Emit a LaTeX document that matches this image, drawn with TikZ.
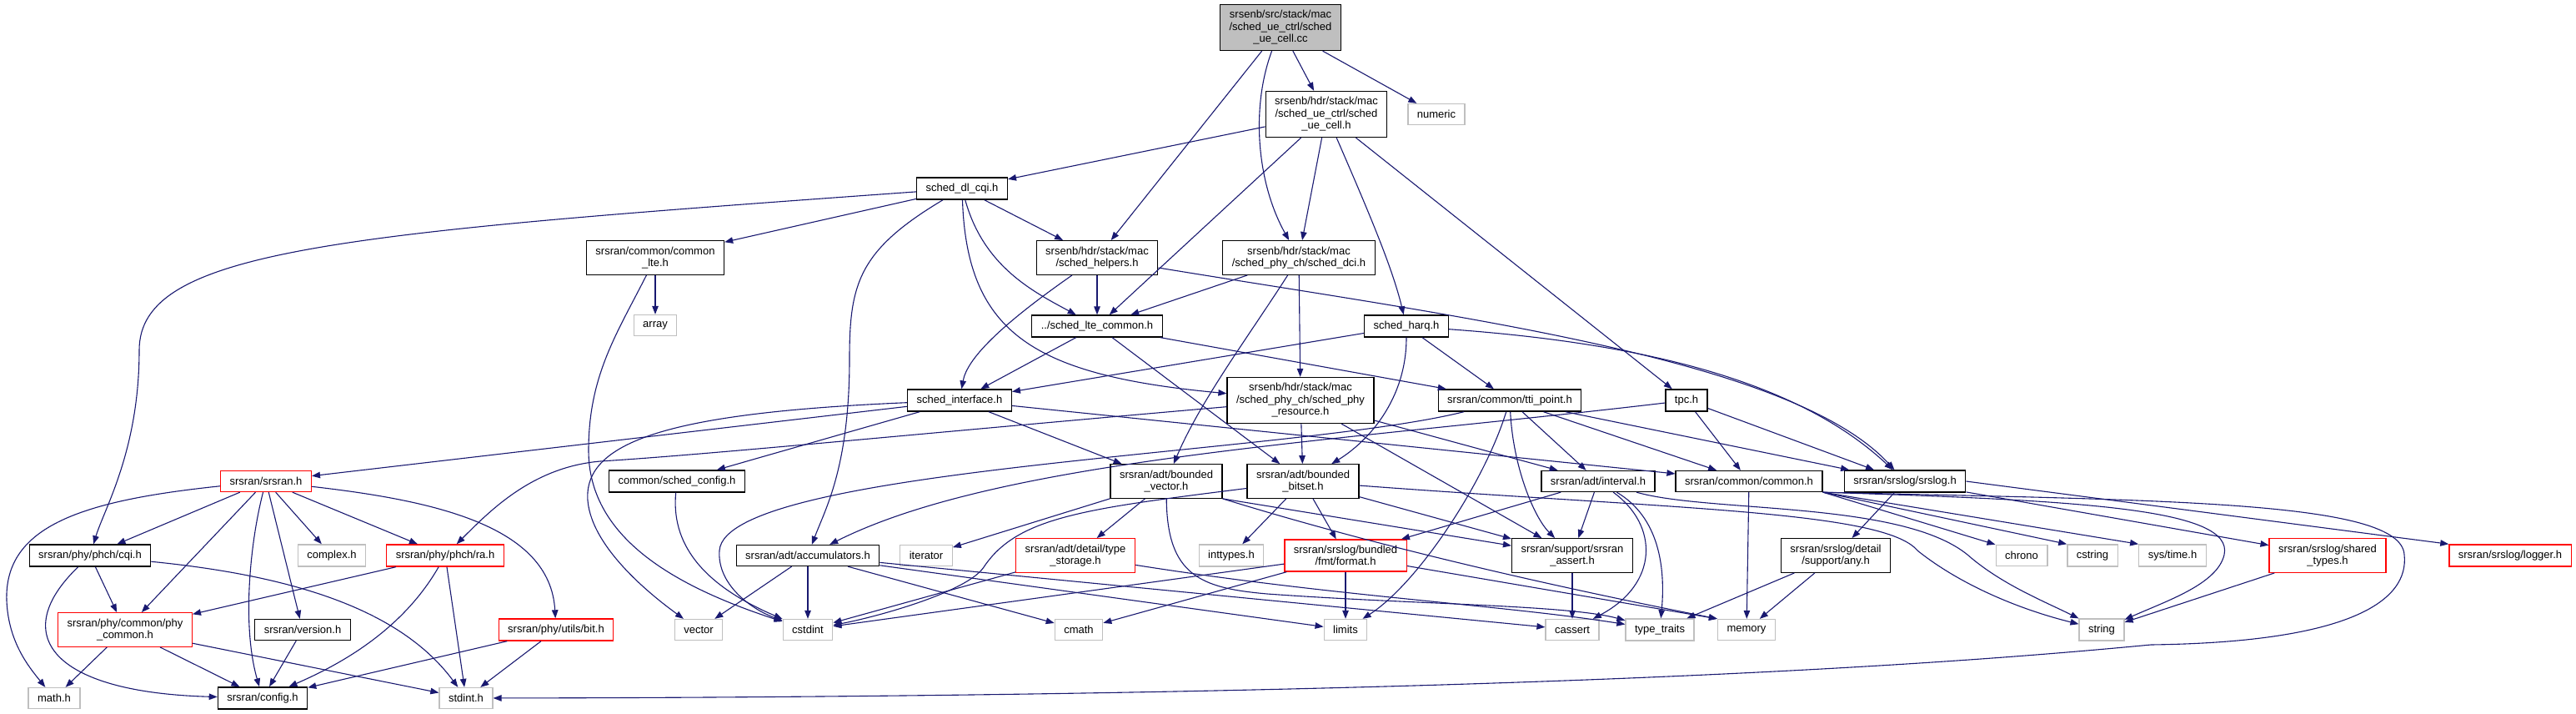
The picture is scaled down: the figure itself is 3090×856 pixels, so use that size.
\documentclass[tikz,border=0pt]{standalone}
\usepackage{fontspec}
\setmainfont{Liberation Sans}
\usetikzlibrary{arrows.meta}
\definecolor{edgeblue}{RGB}{25,25,112}
\definecolor{grey75}{RGB}{191,191,191}
\tikzset{
  hdr/.style={rectangle, draw=black, line width=1.3pt, align=center,
              inner xsep=11pt, inner ysep=7pt, minimum height=25pt,
              font=\fontsize{13}{14.5}\selectfont},
  sysinc/.style={hdr, draw=grey75},
  trunc/.style={hdr, draw=red},
  srcfile/.style={hdr, fill=grey75},
  inc/.style={-{Triangle[length=10pt, width=7.5pt]}, draw=edgeblue,
              line width=1.1pt},
}

\begin{document}
\begin{tikzpicture}[x=1pt, y=-1pt]
  \useasboundingbox (0,0) rectangle (3090,856);

  % Source file and scheduler headers
  \node[srcfile] (root)    at (1536,33)  {srsenb/src/stack/mac\\/sched\_ue\_ctrl/sched\\\_ue\_cell.cc};
  \node[sysinc]  (numeric) at (1723,137) {numeric};
  \node[hdr]     (sue)     at (1591,137) {srsenb/hdr/stack/mac\\/sched\_ue\_ctrl/sched\\\_ue\_cell.h};
  \node[hdr]     (dlcqi)   at (1154,226) {sched\_dl\_cqi.h};
  \node[hdr]     (commonlte) at (786,309) {srsran/common/common\\\_lte.h};
  \node[hdr]     (help)    at (1316,309) {srsenb/hdr/stack/mac\\/sched\_helpers.h};
  \node[hdr]     (dci)     at (1558,309) {srsenb/hdr/stack/mac\\/sched\_phy\_ch/sched\_dci.h};
  \node[sysinc]  (array)   at (786,390)  {array};
  \node[hdr]     (ltecommon) at (1316,391) {../sched\_lte\_common.h};
  \node[hdr]     (harq)    at (1687,391) {sched\_harq.h};
  \node[hdr]     (sinterface) at (1151,480) {sched\_interface.h};
  \node[hdr]     (phyres)  at (1560,480) {srsenb/hdr/stack/mac\\/sched\_phy\_ch/sched\_phy\\\_resource.h};
  \node[hdr]     (ttipoint) at (1811,480) {srsran/common/tti\_point.h};
  \node[hdr]     (tpc)     at (2023,480) {tpc.h};

  % Library headers
  \node[trunc]   (srsran)  at (319,577)  {srsran/srsran.h};
  \node[hdr]     (schedcfg) at (812,577) {common/sched\_config.h};
  \node[hdr]     (bvector) at (1399,577) {srsran/adt/bounded\\\_vector.h};
  \node[hdr]     (bbitset) at (1563,577) {srsran/adt/bounded\\\_bitset.h};
  \node[hdr]     (interval) at (1917,577) {srsran/adt/interval.h};
  \node[hdr]     (common)  at (2098,577) {srsran/common/common.h};
  \node[hdr]     (srslog)  at (2285,577) {srsran/srslog/srslog.h};
  \node[hdr]     (cqi)     at (108,666)  {srsran/phy/phch/cqi.h};
  \node[sysinc]  (complex) at (398,666)  {complex.h};
  \node[trunc]   (ra)      at (534,666)  {srsran/phy/phch/ra.h};
  \node[hdr]     (accum)   at (969,666)  {srsran/adt/accumulators.h};
  \node[sysinc]  (iterator) at (1111,666) {iterator};
  \node[trunc]   (typestorage) at (1290,666) {srsran/adt/detail/type\\\_storage.h};
  \node[sysinc]  (inttypes) at (1477,666) {inttypes.h};
  \node[trunc]   (format)  at (1614,666) {srsran/srslog/bundled\\/fmt/format.h};
  \node[hdr]     (assert)  at (1886,666) {srsran/support/srsran\\\_assert.h};
  \node[hdr]     (any)     at (2202,666) {srsran/srslog/detail\\/support/any.h};
  \node[sysinc]  (chrono)  at (2425,666) {chrono};
  \node[sysinc]  (cstring) at (2510,666) {cstring};
  \node[sysinc]  (systime) at (2606,666) {sys/time.h};
  \node[trunc]   (shared)  at (2792,666) {srsran/srslog/shared\\\_types.h};
  \node[trunc]   (logger)  at (3011,666) {srsran/srslog/logger.h};
  \node[trunc]   (phycommon) at (150,755) {srsran/phy/common/phy\\\_common.h};
  \node[hdr]     (version) at (363,755)  {srsran/version.h};
  \node[trunc]   (bit)     at (667,755)  {srsran/phy/utils/bit.h};

  % System headers
  \node[sysinc]  (vector)  at (838,755)  {vector};
  \node[sysinc]  (cstdint) at (969,755)  {cstdint};
  \node[sysinc]  (cmath)   at (1294,755) {cmath};
  \node[sysinc]  (limits)  at (1614,755) {limits};
  \node[sysinc]  (cassert) at (1886,755) {cassert};
  \node[sysinc]  (traits)  at (1991,755) {type\_traits};
  \node[sysinc]  (memory)  at (2095,755) {memory};
  \node[sysinc]  (string)  at (2521,755) {string};
  \node[sysinc]  (mathh)   at (65,837)   {math.h};
  \node[hdr]     (config)  at (315,837)  {srsran/config.h};
  \node[sysinc]  (stdint)  at (559,837)  {stdint.h};

  % Includes of the source file
  \draw[inc] (root) -- (sue);
  \draw[inc] (root) -- (numeric);
  \draw[inc] (root) -- (help);
  \draw[inc] (root) .. controls (1500,130) and (1508,220) .. (dci);

  % Scheduler headers
  \draw[inc] (sue) -- (dlcqi);
  \draw[inc] (sue) -- (ltecommon);
  \draw[inc] (sue) -- (dci);
  \draw[inc] (sue) .. controls (1640,250) and (1670,320) .. (harq);
  \draw[inc] (sue) -- (tpc);
  \draw[inc] (dlcqi) .. controls (400,280) and (167,300) .. (167,420)
             .. controls (167,540) and (125,610) .. (cqi);
  \draw[inc] (dlcqi) -- (commonlte);
  \draw[inc] (dlcqi) -- (help);
  \draw[inc] (dlcqi) .. controls (1180,320) and (1240,350) .. (ltecommon);
  \draw[inc] (dlcqi) .. controls (1030,300) and (1019,340) .. (1019,430)
             .. controls (1019,560) and (990,610) .. (accum);
  \draw[inc] (dlcqi) .. controls (1160,400) and (1240,450) .. (phyres);
  \draw[inc] (commonlte) -- (array);
  \draw[inc] (commonlte) .. controls (740,400) and (706,450) .. (706,540)
             .. controls (706,640) and (800,700) .. (cstdint);
  \draw[inc] (help) -- (ltecommon);
  \draw[inc] (help) .. controls (1200,390) and (1160,430) .. (sinterface);
  \draw[inc] (help) .. controls (1750,380) and (2150,430) .. (srslog);
  \draw[inc] (dci) -- (ltecommon);
  \draw[inc] (dci) .. controls (1500,400) and (1440,480) .. (bvector);
  \draw[inc] (dci) -- (phyres);
  \draw[inc] (ltecommon) -- (sinterface);
  \draw[inc] (ltecommon) -- (bbitset);
  \draw[inc] (ltecommon) -- (ttipoint);
  \draw[inc] (harq) -- (sinterface);
  \draw[inc] (harq) .. controls (1687,480) and (1640,530) .. (bbitset);
  \draw[inc] (harq) -- (ttipoint);
  \draw[inc] (harq) .. controls (1950,410) and (2150,450) .. (srslog);
  \draw[inc] (sinterface) -- (srsran);
  \draw[inc] (sinterface) .. controls (800,495) and (700,530) .. (705,600)
             .. controls (710,660) and (790,720) .. (vector);
  \draw[inc] (sinterface) -- (schedcfg);
  \draw[inc] (sinterface) -- (bvector);
  \draw[inc] (sinterface) -- (common);
  \draw[inc] (phyres) .. controls (1100,520) and (850,545) .. (720,553)
             .. controls (640,560) and (590,610) .. (ra);
  \draw[inc] (phyres) -- (bbitset);
  \draw[inc] (phyres) -- (interval);
  \draw[inc] (phyres) -- (assert);
  \draw[inc] (ttipoint) .. controls (1550,545) and (870,560) .. (863,660)
             .. controls (860,700) and (900,730) .. (cstdint);
  \draw[inc] (ttipoint) .. controls (1780,580) and (1700,700) .. (limits);
  \draw[inc] (ttipoint) .. controls (1815,560) and (1840,620) .. (assert);
  \draw[inc] (ttipoint) -- (interval);
  \draw[inc] (ttipoint) -- (common);
  \draw[inc] (ttipoint) -- (srslog);
  \draw[inc] (tpc) .. controls (1600,530) and (1200,550) .. (accum);
  \draw[inc] (tpc) -- (common);
  \draw[inc] (tpc) -- (srslog);

  % srsran/srsran.h and the phy headers
  \draw[inc] (srsran) .. controls (100,600) and (5,630) .. (8,720)
             .. controls (10,770) and (35,800) .. (mathh);
  \draw[inc] (srsran) -- (cqi);
  \draw[inc] (srsran) -- (phycommon);
  \draw[inc] (srsran) .. controls (300,650) and (290,750) .. (config);
  \draw[inc] (srsran) -- (version);
  \draw[inc] (srsran) -- (complex);
  \draw[inc] (srsran) -- (ra);
  \draw[inc] (srsran) .. controls (520,600) and (660,630) .. (bit);
  \draw[inc] (cqi) -- (phycommon);
  \draw[inc] (cqi) .. controls (10,760) and (60,830) .. (config);
  \draw[inc] (cqi) .. controls (350,690) and (480,730) .. (stdint);
  \draw[inc] (phycommon) -- (mathh);
  \draw[inc] (phycommon) -- (config);
  \draw[inc] (phycommon) -- (stdint);
  \draw[inc] (ra) -- (phycommon);
  \draw[inc] (ra) .. controls (480,760) and (400,800) .. (config);
  \draw[inc] (ra) -- (stdint);
  \draw[inc] (version) -- (config);
  \draw[inc] (bit) -- (config);
  \draw[inc] (bit) -- (stdint);
  \draw[inc] (schedcfg) .. controls (805,650) and (840,700) .. (cstdint);

  % adt headers
  \draw[inc] (accum) -- (vector);
  \draw[inc] (accum) -- (cstdint);
  \draw[inc] (accum) -- (cmath);
  \draw[inc] (accum) -- (limits);
  \draw[inc] (accum) -- (cassert);
  \draw[inc] (bvector) -- (iterator);
  \draw[inc] (bvector) -- (typestorage);
  \draw[inc] (bvector) .. controls (1400,690) and (1440,705) .. (1520,712)
             .. controls (1700,725) and (1880,725) .. (traits);
  \draw[inc] (bvector.south east) -- (assert);
  \draw[inc] (bvector.south east) .. controls (1700,670) and (1950,720) .. (memory.north west);
  \draw[inc] (bbitset) -- (inttypes);
  \draw[inc] (bbitset) -- (format);
  \draw[inc] (bbitset) -- (assert);
  \draw[inc] (bbitset) .. controls (1300,610) and (1220,620) .. (1180,680)
             .. controls (1160,710) and (1050,740) .. (cstdint);
  \draw[inc] (bbitset) .. controls (2000,610) and (2260,612) .. (2300,660)
             .. controls (2350,700) and (2420,730) .. (string);
  \draw[inc] (interval) -- (format);
  \draw[inc] (interval) -- (assert);
  \draw[inc] (interval) .. controls (1990,630) and (1990,700) .. (cassert);
  \draw[inc] (interval) .. controls (1990,620) and (1998,680) .. (traits);
  \draw[inc] (interval) .. controls (2050,615) and (2280,600) .. (2360,665)
             .. controls (2400,700) and (2450,720) .. (string);
  \draw[inc] (typestorage) -- (cstdint);
  \draw[inc] (typestorage) .. controls (1600,715) and (1800,725) .. (traits);
  \draw[inc] (format) -- (limits);
  \draw[inc] (format) -- (cmath);
  \draw[inc] (format) -- (cstdint);
  \draw[inc] (format) -- (memory.north west);
  \draw[inc] (assert) -- (cassert);

  % common.h and srslog
  \draw[inc] (common) -- (memory);
  \draw[inc] (common.south east) -- (chrono.north west);
  \draw[inc] (common.south east) -- (cstring.north west);
  \draw[inc] (common.south east) -- (systime.north west);
  \draw[inc] (common.south east) .. controls (2500,600) and (2680,610) .. (2668,665)
             .. controls (2660,700) and (2600,720) .. (string);
  \draw[inc] (common.south east) .. controls (2600,600) and (2880,600) .. (2884,665)
             .. controls (2890,720) and (2820,770) .. (2580,773)
             .. controls (2400,790) and (1900,835) .. (stdint);
  \draw[inc] (srslog) -- (any);
  \draw[inc] (srslog) -- (shared);
  \draw[inc] (srslog.east) -- (logger.north west);
  \draw[inc] (shared) -- (string);
  \draw[inc] (any) -- (traits);
  \draw[inc] (any) -- (memory);
\end{tikzpicture}
\end{document}
